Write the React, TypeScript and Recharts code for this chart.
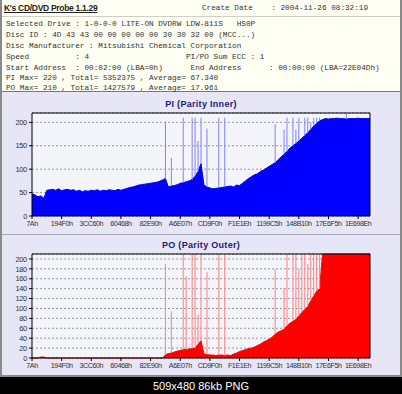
import React from 'react';
import {
  ComposedChart,
  Area,
  Bar,
  XAxis,
  YAxis,
  CartesianGrid,
  ReferenceLine,
} from 'recharts';

const xLabels = [
  '7Ah', '194F0h', '3CC60h', '60468h', '82E90h', 'A6E07h',
  'CD9F0h', 'F1E1Eh', '1199C5h', '148B10h', '17E6F5h', '1E698Eh',
];

// PI base level, one value per sample (115 samples across the disc)
const piBase = [
  47, 45, 41, 43, 38,
  55,
  56, 57, 55, 58, 54, 56, 57, 55, 56, 53, 55, 52, 54, 53, 55, 54, 56, 53, 55, 54, 56, 55, 54, 57, 55,
  57, 59, 61, 62, 64, 66, 67, 68, 69, 70, 71, 72, 74, 77,
  80,
  62,
  64, 65, 67, 70, 71, 73,
  75, 78, 85,
  95, 112,
  66,
  62, 60, 58, 59, 60, 61,
  62, 63, 64, 62, 66, 65,
  70, 75, 80, 84, 88, 90,
  95, 98, 102, 106, 110, 114,
  120, 126, 132, 138, 145,
  150, 155, 160, 166, 172,
  178, 185, 192, 198, 203,
  206, 208, 207, 208, 208, 209, 208, 208, 207, 208, 208, 208, 209, 208, 208, 208, 208,
];

// [sample index, peak]
const piSpikes: [number, number][] = [
  [45, 202], [47, 124], [51, 210], [54, 210], [55, 210], [56, 160], [57, 210],
  [59, 187], [63, 210], [65, 210], [82, 196], [85, 185], [86, 210], [88, 210],
  [89, 185], [90, 210], [92, 210], [93, 210], [94, 200], [95, 210], [96, 210],
  [97, 210], [106, 220],
];

const poBase = [
  0, 0, 0, 2, 2, 0, 0, 0, 0, 0, 0, 0, 0, 0, 0, 0, 0, 0, 0, 0, 0, 0, 0, 0, 0,
  0, 0, 0, 0, 0, 0, 0, 0, 0, 0, 0, 0, 0, 0, 0, 0, 0, 0, 0, 0,
  6, 9, 10, 12, 14, 15, 17, 17, 18, 19, 20, 28, 35,
  8, 7, 6, 6, 5, 6, 6, 5, 6, 5,
  8, 10, 13, 15, 17, 19,
  20, 22, 25, 28, 32, 35,
  38, 42,
  48, 52, 55, 58,
  65, 70, 74, 78,
  85, 92, 98, 104,
  115, 125, 135,
  140,
  210, 210, 210, 210, 210, 210, 210, 210, 210, 210, 210, 210, 210, 210, 210, 210, 210,
];

const poSpikes: [number, number][] = [
  [45, 190], [47, 95], [51, 210], [52, 165], [54, 210], [55, 210], [56, 88],
  [57, 210], [59, 173], [63, 210], [65, 210], [82, 179], [85, 141], [86, 210],
  [88, 210], [89, 210], [90, 180], [91, 210], [92, 210], [93, 190], [94, 210],
  [95, 210], [96, 210], [97, 210],
];

const piTicks = [0, 50, 100, 150, 200];
const poTicks = [0, 20, 40, 60, 80, 100, 120, 140, 160, 180, 200];
const xTicks = xLabels.map((_, k) => k * 10);

const buildData = (base: number[], spikes: [number, number][]) =>
  base.map((v, i) => {
    const s = spikes.find((p) => p[0] === i);
    return { i, base: v, spike: s ? [v, s[1]] : null };
  });

const tickStyle = {
  fill: '#333',
  fontSize: 7.5,
  letterSpacing: -0.3,
  fontFamily: 'Liberation Sans, Arial, sans-serif',
};
const xTickStyle = { ...tickStyle, fontSize: 7.2, letterSpacing: -0.45 };

type ChartProps = {
  title: string;
  top: number;
  height: number;
  base: number[];
  spikes: [number, number][];
  yMax: number;
  yTicks: number[];
  color: string;
  spikeColor: string;
};

const ParityChart: React.FC<ChartProps> = ({ title, top, height, base, spikes, yMax, yTicks, color, spikeColor }) => {
  const data = buildData(base, spikes);
  return (
    <div style={{ position: 'absolute', left: 0, top, width: 402, height }}>
      <div
        style={{
          position: 'absolute', top: 4, left: 0, width: 402, textAlign: 'center',
          fontFamily: 'Liberation Sans, Arial, sans-serif', fontWeight: 'bold', fontSize: 9,
          color: '#1a1a80', letterSpacing: 0.3,
        }}
      >
        {title}
      </div>
      <ComposedChart width={402} height={height} data={data} margin={{ top: 18, right: 0, bottom: 5, left: 0 }}>
        <CartesianGrid vertical={false} stroke="#999" strokeDasharray="2 2" fill="#f4f4fb" />
        <XAxis
          dataKey="i"
          type="number"
          domain={[0, 114]}
          ticks={xTicks}
          tickFormatter={(v: number) => xLabels[Math.round(v / 10)]}
          tick={xTickStyle}
          tickSize={3}
          stroke="#000"
          height={14}
          interval={0}
        />
        <YAxis domain={[0, yMax]} ticks={yTicks} tick={tickStyle} tickSize={3} stroke="#000" width={32} interval={0} />
        <YAxis
          yAxisId="r"
          orientation="right"
          domain={[0, yMax]}
          ticks={yTicks}
          tick={tickStyle}
          tickSize={3}
          stroke="#000"
          width={32}
          interval={0}
        />
        <Bar dataKey="spike" fill={spikeColor} barSize={1} isAnimationActive={false} />
        <Area
          type="linear"
          dataKey="base"
          stroke={color}
          strokeWidth={1}
          fill={color}
          fillOpacity={1}
          dot={false}
          activeDot={false}
          isAnimationActive={false}
        />
        <ReferenceLine y={yMax} stroke="#000" />
      </ComposedChart>
    </div>
  );
};

const headerRows = [
  'Selected Drive : 1-0-0-0 LITE-ON DVDRW LDW-811S   HS0P',
  'Disc ID : 4D 43 43 00 00 00 00 00 30 30 32 00 (MCC...)',
  'Disc Manufacturer : Mitsubishi Chemical Corporation',
  'Speed          : 4                     PI/PO Sum ECC : 1',
  'Start Address  : 00:02:00 (LBA=0h)      End Address      : 00:00:00 (LBA=22E04Dh)',
  'PI Max= 220 , Total= 5352375 , Average= 67.340',
  'PO Max= 210 , Total= 1427579 , Average= 17.961',
];
const headerRowTops = [19, 30, 41, 52, 63, 73, 83];

const mono: React.CSSProperties = {
  position: 'absolute',
  left: 6,
  fontFamily: 'Liberation Mono, monospace',
  fontSize: 7.7,
  lineHeight: '11px',
  color: '#333',
  whiteSpace: 'pre',
};

export default function App() {
  return (
    <div style={{ position: 'fixed', left: 0, top: 0, width: 402, height: 394, background: '#000', overflow: 'hidden' }}>
      {/* frame */}
      <div
        style={{
          position: 'absolute', left: 0, top: 0, width: 398, height: 375,
          background: '#e6e6f6', borderLeft: '2px solid #8a8a8a', borderRight: '2px solid #8a8a8a',
          borderBottom: '2px solid #8a8a8a',
        }}
      />
      {/* header */}
      <div
        style={{
          position: 'absolute', left: 2, top: 0, width: 398, height: 91,
          background: '#fffff4', borderBottom: '1px solid #777',
        }}
      >
        <div style={{ position: 'absolute', left: 0, top: 16, width: 398, height: 1, background: '#d0d0c8' }} />
        <div
          style={{
            position: 'absolute', left: 2, top: 3,
            fontFamily: 'Liberation Sans, Arial, sans-serif', fontWeight: 'bold', fontSize: 8.5,
            textDecoration: 'underline', color: '#222', letterSpacing: -0.3,
          }}
        >
          K's CD/DVD Probe 1.1.29
        </div>
        <div style={{ ...mono, left: 200, top: 3 }}>{'Create Date    : 2004-11-26 08:32:19'}</div>
        {headerRows.map((r, k) => (
          <div key={k} style={{ ...mono, left: 4, top: headerRowTops[k] }}>
            {r}
          </div>
        ))}
      </div>
      <div style={{ position: 'absolute', left: 2, top: 234, width: 398, height: 1, background: '#a8a8b8' }} />

      <ParityChart
        title="PI (Parity Inner)"
        top={95}
        height={140}
        base={piBase}
        spikes={piSpikes}
        yMax={220}
        yTicks={piTicks}
        color="#0000ff"
        spikeColor="#8080ff"
      />
      <ParityChart
        title="PO (Parity Outer)"
        top={236}
        height={141}
        base={poBase}
        spikes={poSpikes}
        yMax={210}
        yTicks={poTicks}
        color="#ff0000"
        spikeColor="#ff8080"
      />

      <div
        style={{
          position: 'absolute', left: 0, top: 380, width: 402, textAlign: 'center',
          fontFamily: 'Liberation Sans, Arial, sans-serif', fontSize: 11, color: '#fff',
        }}
      >
        509x480 86kb PNG
      </div>
    </div>
  );
}
